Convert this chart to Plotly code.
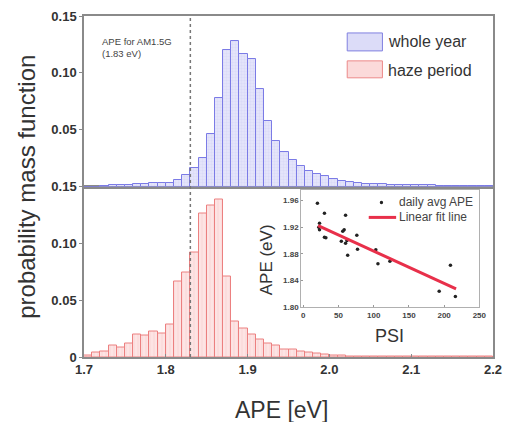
import plotly.graph_objects as go

# ---------------- data ----------------
bin_centers = [1.705, 1.715, 1.725, 1.735, 1.745, 1.755, 1.765, 1.775, 1.785, 1.795,
               1.805, 1.815, 1.825, 1.835, 1.845, 1.855, 1.865, 1.875, 1.885, 1.895,
               1.905, 1.915, 1.925, 1.935, 1.945, 1.955, 1.965, 1.975, 1.985, 1.995,
               2.005, 2.015, 2.025, 2.035, 2.045, 2.055, 2.065, 2.075, 2.085, 2.095,
               2.105, 2.115, 2.125, 2.135, 2.145, 2.155, 2.165, 2.175, 2.185, 2.195]

whole_year = [0.0, 0.0, 0.0005, 0.001, 0.0015, 0.0015, 0.002, 0.002, 0.003, 0.003,
              0.0035, 0.006, 0.0105, 0.016, 0.025, 0.046, 0.078, 0.120, 0.128, 0.117,
              0.112, 0.086, 0.058, 0.040, 0.030, 0.023, 0.018, 0.014, 0.011, 0.009,
              0.007, 0.005, 0.004, 0.003, 0.0025, 0.002, 0.002, 0.0015, 0.0015, 0.001,
              0.001, 0.001, 0.001, 0.0008, 0.0008, 0.0007, 0.0006, 0.0006, 0.0005, 0.0005]

haze_period = [0.001, 0.004, 0.0045, 0.010, 0.008, 0.012, 0.020, 0.019, 0.022, 0.021,
               0.029, 0.066, 0.074, 0.092, 0.126, 0.133, 0.139, 0.071, 0.031, 0.025,
               0.020, 0.015, 0.012, 0.010, 0.007, 0.007, 0.005, 0.004, 0.003, 0.002,
               0.0015, 0.001, 0.0008, 0.0008, 0.0006, 0.0006, 0.0005, 0.0005, 0.0005, 0.0005,
               0.0005, 0.0005, 0.0005, 0.0005, 0.0005, 0.0005, 0.0005, 0.0005, 0.0005, 0.0005]

am15g_ape = 1.83

psi = [20, 30, 60, 23, 22, 23, 30, 32, 56, 58, 54, 62, 60, 76, 63, 77, 103, 106, 123, 193, 209, 216]
daily_ape = [1.956, 1.941, 1.938, 1.926, 1.920, 1.916, 1.905, 1.904, 1.914, 1.916, 1.899,
             1.900, 1.896, 1.908, 1.878, 1.887, 1.886, 1.865, 1.869, 1.824, 1.863, 1.816]

fit_psi = [21, 217]
fit_ape = [1.9222, 1.8274]

x_ticks = [1.7, 1.8, 1.9, 2.0, 2.1, 2.2]
x_ticktext = ["1.7", "1.8", "1.9", "2.0", "2.1", "2.2"]
y_ticks_bottom = [0, 0.05, 0.10, 0.15]
y_ticktext_bottom = ["0", "0.05", "0.10", "0.15"]
y_ticks_top = [0.05, 0.10, 0.15]
y_ticktext_top = ["0.05", "0.10", "0.15"]
inset_x_ticks = [0, 50, 100, 150, 200, 250]
inset_y_ticks = [1.80, 1.84, 1.88, 1.92, 1.96]
inset_y_ticktext = ["1.80", "1.84", "1.88", "1.92", "1.96"]

# ---------------- figure ----------------
FONT = "Liberation Sans, Arial, sans-serif"
W, H = 511, 422
ML, MR, MT, MB = 84, 9, 15, 65
PW, PH = W - ML - MR, H - MT - MB


def px_x(p):
    return (p - ML) / PW


def px_y(p):
    return (H - MB - p) / PH


fig = go.Figure()

fig.add_trace(go.Bar(
    x=bin_centers, y=whole_year, width=0.01, xaxis="x2", yaxis="y2",
    marker=dict(color="#dedef8", line=dict(color="#7b7be6", width=1),
                pattern=dict(shape="+", fgcolor="#b9b9ee", bgcolor="#e4e4fa", size=3, solidity=0.15)),
    showlegend=False, name="whole year"))

fig.add_trace(go.Bar(
    x=bin_centers, y=haze_period, width=0.01, xaxis="x", yaxis="y",
    marker=dict(color="#fbdede", line=dict(color="#ec8080", width=1),
                pattern=dict(shape="|", fgcolor="#f0b0b0", bgcolor="#fde4e4", size=4, solidity=0.15)),
    showlegend=False, name="haze period"))

fig.add_trace(go.Scatter(
    x=psi, y=daily_ape, mode="markers", xaxis="x3", yaxis="y3",
    marker=dict(color="#222222", size=3.5), showlegend=False, name="daily avg APE"))

fig.add_trace(go.Scatter(
    x=fit_psi, y=fit_ape, mode="lines", xaxis="x3", yaxis="y3",
    line=dict(color="#e8304a", width=3), showlegend=False, name="Linear fit line"))

axis_common = dict(showline=True, linecolor="#8a8a8a", linewidth=1.5, mirror=True,
                   showgrid=False, zeroline=False)
tickfont_main = dict(family=FONT, size=13, color="#333333", weight="bold")
tickfont_inset = dict(family=FONT, size=8, color="#444444", weight="bold")

fig.update_layout(
    width=W, height=H,
    margin=dict(l=ML, r=MR, t=MT, b=MB),
    paper_bgcolor="white", plot_bgcolor="white",
    barmode="overlay", bargap=0,
    showlegend=False,
    xaxis=dict(domain=[0, 1], anchor="y", range=[1.7, 2.2], tickvals=x_ticks, ticktext=x_ticktext,
               ticks="inside", ticklen=3, tickcolor="#8a8a8a", tickfont=tickfont_main, **axis_common),
    yaxis=dict(domain=[0, 0.5], anchor="x", range=[0, 0.15], tickvals=y_ticks_bottom,
               ticktext=y_ticktext_bottom, ticks="outside", ticklen=3, tickcolor="#8a8a8a",
               tickfont=tickfont_main, **axis_common),
    xaxis2=dict(domain=[0, 1], anchor="y2", matches="x", range=[1.7, 2.2], showticklabels=False,
                ticks="", **axis_common),
    yaxis2=dict(domain=[0.5, 1], anchor="x2", range=[0, 0.15], tickvals=y_ticks_top,
                ticktext=y_ticktext_top, ticks="outside", ticklen=3, tickcolor="#8a8a8a",
                tickfont=tickfont_main, **axis_common),
    xaxis3=dict(domain=[px_x(306), px_x(488)], anchor="y3", range=[-3, 250], tickvals=inset_x_ticks,
                ticks="inside", ticklen=2, tickcolor="#999999", tickfont=tickfont_inset,
                showline=True, linecolor="#b0b0b0", linewidth=1, mirror=True,
                showgrid=False, zeroline=False),
    yaxis3=dict(domain=[px_y(307), px_y(190)], anchor="x3", range=[1.80, 1.975], tickvals=inset_y_ticks,
                ticktext=inset_y_ticktext, ticks="inside", ticklen=2, tickcolor="#999999",
                tickfont=tickfont_inset, showline=True, linecolor="#b0b0b0", linewidth=1, mirror=True,
                showgrid=False, zeroline=False),
)

# dashed reference line at AM1.5G APE (spans both panels)
fig.add_shape(type="line", xref="x", yref="paper", x0=am15g_ape, x1=am15g_ape, y0=0, y1=1,
              line=dict(color="#777777", width=1.5, dash="dot"), layer="above")

# main legend (drawn manually for large swatches)
fig.add_shape(type="rect", xref="paper", yref="paper",
              x0=px_x(353), x1=px_x(389), y0=px_y(50), y1=px_y(32),
              fillcolor="#dcdcf8", line=dict(color="#8080e0", width=1))
fig.add_shape(type="rect", xref="paper", yref="paper",
              x0=px_x(353), x1=px_x(389), y0=px_y(77), y1=px_y(60),
              fillcolor="#fbdada", line=dict(color="#ec8a8a", width=1))

annotations = [
    dict(text="whole year", x=px_x(393), y=px_y(41), xanchor="left", yanchor="middle",
         font=dict(family=FONT, size=16, color="#333333")),
    dict(text="haze period", x=px_x(393), y=px_y(70), xanchor="left", yanchor="middle",
         font=dict(family=FONT, size=16, color="#333333")),
    dict(text="APE for AM1.5G<br>(1.83 eV)", x=px_x(100), y=px_y(47), xanchor="left", yanchor="middle",
         align="left", font=dict(family=FONT, size=9.5, color="#444444")),
    dict(text="probability mass function", x=px_x(25), y=0.5, xanchor="center", yanchor="middle",
         textangle=-90, font=dict(family=FONT, size=24, color="#333333")),
    dict(text="APE [eV]", x=px_x(286), y=px_y(410), xanchor="center", yanchor="middle",
         font=dict(family=FONT, size=23, color="#333333")),
    dict(text="APE (eV)", x=px_x(270), y=px_y(259), xanchor="center", yanchor="middle",
         textangle=-90, font=dict(family=FONT, size=17, color="#333333")),
    dict(text="PSI", x=px_x(396), y=px_y(336), xanchor="center", yanchor="middle",
         font=dict(family=FONT, size=18, color="#333333")),
    dict(text="daily avg APE", x=px_x(404), y=px_y(202), xanchor="left", yanchor="middle",
         font=dict(family=FONT, size=12, color="#444444")),
    dict(text="Linear fit line", x=px_x(404), y=px_y(217), xanchor="left", yanchor="middle",
         font=dict(family=FONT, size=12, color="#444444")),
]
for a in annotations:
    a.update(xref="paper", yref="paper", showarrow=False)
fig.update_layout(annotations=annotations)

# inset legend symbols
fig.add_shape(type="circle", xref="paper", yref="paper", xsizemode="pixel", ysizemode="pixel",
              xanchor=px_x(388), yanchor=px_y(202), x0=-1.7, x1=1.7, y0=-1.7, y1=1.7,
              fillcolor="#222222", line=dict(width=0))
fig.add_shape(type="line", xref="paper", yref="paper", x0=px_x(375), x1=px_x(403),
              y0=px_y(217), y1=px_y(217), line=dict(color="#e8304a", width=3))

fig.write_html("out.html", config={"displayModeBar": False},
               post_script="document.body.style.margin='0';document.body.style.overflow='hidden';")
